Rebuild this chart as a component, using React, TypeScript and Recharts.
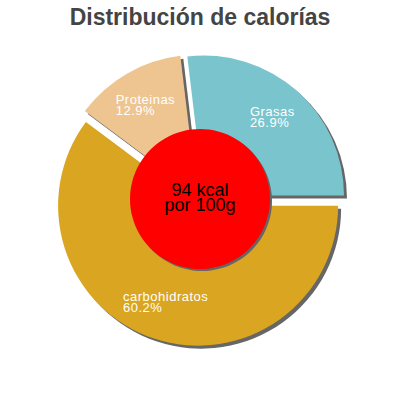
import { PieChart, Pie, Cell, Sector } from 'recharts';

const TITLE = 'Distribución de calorías';
const NAMES = ['Grasas', 'Proteinas', 'carbohidratos'];
const PERCENTS = [26.9, 12.9, 60.2];
const COLORS = ['#7ac5cd', '#eec591', '#daa520'];
const CENTER_LINES = ['94 kcal', 'por 100g'];
const KCAL = [94];

const FONT = '"Liberation Sans", Arial, sans-serif';
const RAD = Math.PI / 180;
const EXPLODE = 6;
const LABEL_R = 103;
const LABEL_SPACING = 0.5;

const data = NAMES.map((name, i) => ({ name, value: PERCENTS[i] }));
const centerData = KCAL.map((v) => ({ name: 'kcal', value: v }));

let ctx: CanvasRenderingContext2D | null = null;
function textWidth(s: string, font: string) {
  if (!ctx) ctx = document.createElement('canvas').getContext('2d');
  if (!ctx) return s.length * 7;
  ctx.font = font;
  return ctx.measureText(s).width + s.length * LABEL_SPACING;
}

// sector pushed out along its mid angle, with a flat grey shadow below it
const makeShape = (explode: number, shadow: number) => (props: any) => {
  const { cx, cy, midAngle, innerRadius, outerRadius, startAngle, endAngle, fill } = props;
  const dx = explode * Math.cos(midAngle * RAD);
  const dy = -explode * Math.sin(midAngle * RAD);
  const common = { innerRadius, outerRadius, startAngle, endAngle, stroke: 'none' };
  return (
    <g>
      <Sector {...common} cx={cx + dx + shadow} cy={cy + dy + shadow} fill="#666" />
      <Sector {...common} cx={cx + dx} cy={cy + dy} fill={fill} />
    </g>
  );
};

const sliceShape = makeShape(EXPLODE, 3);
const circleShape = makeShape(0, 2);

const renderLabel = (p: any) => {
  const r = EXPLODE + LABEL_R;
  const ox = p.cx + r * Math.cos(p.midAngle * RAD);
  const oy = p.cy - r * Math.sin(p.midAngle * RAD);
  const name = p.name ?? p.payload?.name;
  const pct = `${(p.value ?? p.payload?.value).toFixed(1)}%`;
  const font = `13px ${FONT}`;
  const w = Math.max(textWidth(name, font), textWidth(pct, font));
  const x = ox - w / 2;
  return (
    <text x={x} y={oy - 2} fill="#fff" fontSize={13} fontFamily={FONT} letterSpacing={LABEL_SPACING}>
      <tspan x={x}>{name}</tspan>
      <tspan x={x} dy={11}>{pct}</tspan>
    </text>
  );
};

const renderCenter = (p: any) => (
  <text x={p.cx} y={p.cy - 3} fill="#000" fontSize={18} fontFamily={FONT} textAnchor="middle">
    <tspan x={p.cx}>{CENTER_LINES[0]}</tspan>
    <tspan x={p.cx} dy={15}>{CENTER_LINES[1]}</tspan>
  </text>
);

export default function App() {
  return (
    <div style={{ position: 'absolute', left: 0, top: 0, width: 400, height: 400, background: '#fff' }}>
      <div
        style={{
          position: 'absolute',
          top: 6,
          left: 0,
          width: 400,
          textAlign: 'center',
          fontFamily: FONT,
          fontWeight: 'bold',
          fontSize: 23,
          lineHeight: '23px',
          color: '#444',
        }}
      >
        {TITLE}
      </div>
      <div style={{ position: 'absolute', left: 0, top: 0 }}>
        <PieChart width={400} height={400} margin={{ top: 0, right: 0, bottom: 0, left: 0 }}>
          <Pie
            data={data}
            dataKey="value"
            nameKey="name"
            cx={200}
            cy={200}
            innerRadius={0}
            outerRadius={140}
            startAngle={0}
            endAngle={360}
            stroke="none"
            shape={sliceShape}
            inactiveShape={sliceShape}
            activeShape={sliceShape}
            label={renderLabel}
            labelLine={false}
            isAnimationActive={false}
          >
            {data.map((d, i) => (
              <Cell key={d.name} fill={COLORS[i]} />
            ))}
          </Pie>
          <Pie
            data={centerData}
            dataKey="value"
            cx={200}
            cy={199}
            innerRadius={0}
            outerRadius={70}
            startAngle={0}
            endAngle={360}
            stroke="none"
            fill="#ff0000"
            shape={circleShape}
            inactiveShape={circleShape}
            activeShape={circleShape}
            label={renderCenter}
            labelLine={false}
            isAnimationActive={false}
          />
        </PieChart>
      </div>
    </div>
  );
}
